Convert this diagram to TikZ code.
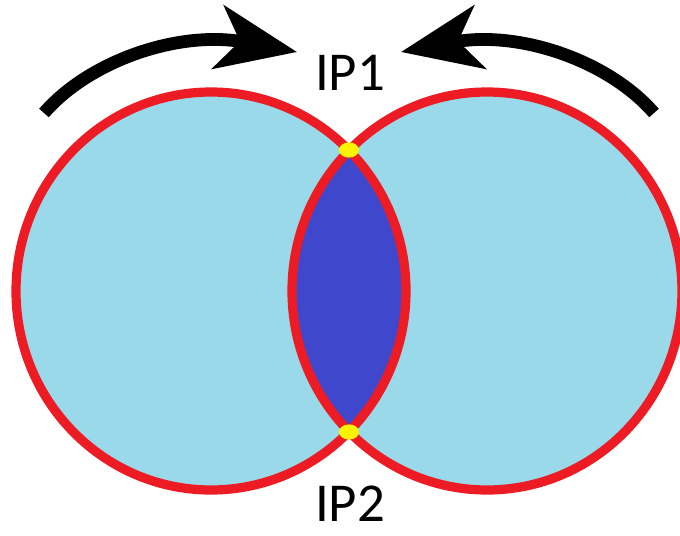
\documentclass[tikz,border=0pt]{standalone}
\usepackage{fontspec}
\setmainfont{Carlito}
\usepackage{xcolor}
\usepackage{tikz}
\usetikzlibrary{shapes.geometric, positioning, arrows.meta}
\definecolor{paintred}{RGB}{237, 28, 36}
\definecolor{paintsky}{RGB}{153, 217, 234}
\definecolor{paintindigo}{RGB}{63, 72, 204}
\definecolor{paintyellow}{RGB}{255, 242, 0}

\begin{document}
\begin{tikzpicture}[x=0.025cm, y=-0.025cm,
  disc/.style={draw=paintred, line width=0.23cm},
  turn/.style={line width=0.32cm,
    -{Stealth[length=2.0cm, width=1.6cm, inset=0.55cm]}},
  ipdot/.style={ellipse, fill=paintyellow, inner sep=0pt,
    minimum width=0.5cm, minimum height=0.38cm},
  iplabel/.style={font=\fontsize{39}{46}\selectfont, inner sep=0pt}
]
  \useasboundingbox (0,0) rectangle (680,535);

  \coordinate (cl) at (211,291);
  \coordinate (cr) at (487,291);

  % discs and their overlap
  \fill[paintsky] (cl) ellipse [x radius=195, y radius=199];
  \fill[paintsky] (cr) ellipse [x radius=195, y radius=199];
  \begin{scope}
    \clip (cl) ellipse [x radius=195, y radius=199];
    \fill[paintindigo] (cr) ellipse [x radius=195, y radius=199];
  \end{scope}
  \draw[disc] (cl) ellipse [x radius=195, y radius=199];
  \draw[disc] (cr) ellipse [x radius=195, y radius=199];

  \node[ipdot] (ip1dot) at (349,150) {};
  \node[ipdot] (ip2dot) at (349,432) {};

  \node[iplabel] (ip1) at (350,73) {IP1};
  \node[iplabel] (ip2) at (350,504) {IP2};

  % turning arrows
  \coordinate (lstart) at (44,113);
  \coordinate (ltip) at (297,52);
  \coordinate (rstart) at (654,113);
  \coordinate (rtip) at (401,52);
  \draw[turn] (lstart) .. controls (90,60) and (180,30) .. (ltip);
  \draw[turn] (rstart) .. controls (608,60) and (518,30) .. (rtip);
\end{tikzpicture}
\end{document}
